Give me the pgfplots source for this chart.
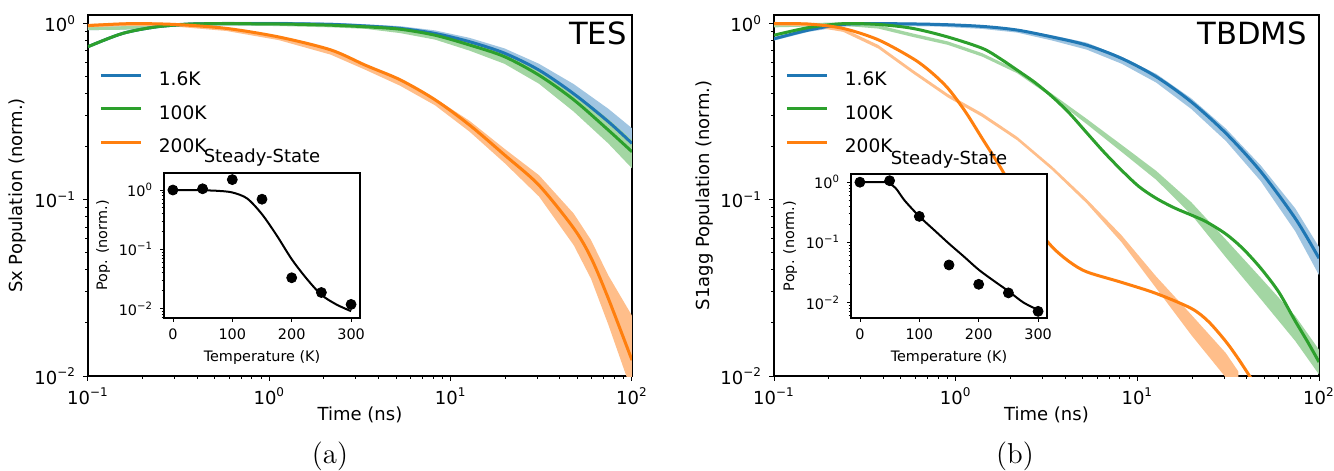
\documentclass[border=0pt]{standalone}
\usepackage{fontspec}
\usepackage{pgfplots}
\pgfplotsset{compat=1.18}
\newfontfamily\dv{DejaVu Sans}
\newcommand\fntA{\dv\fontsize{9}{11}\selectfont}
\newcommand\fntL{\dv\fontsize{9.3}{11}\selectfont}
\newcommand\fntI{\dv\fontsize{7.2}{9}\selectfont}
\newcommand\fntIT{\dv\fontsize{9}{11}\selectfont}
\newcommand\fntT{\dv\fontsize{15.3}{18}\selectfont}
\definecolor{tblue}{RGB}{31,119,180}
\definecolor{torange}{RGB}{255,127,14}
\definecolor{tgreen}{RGB}{44,160,44}
\definecolor{lblue}{RGB}{160,197,225}
\definecolor{lorange}{RGB}{255,190,138}
\definecolor{lgreen}{RGB}{163,214,163}
\pgfplotsset{legend image code/.code={\draw[#1, line width=1.5pt] (0pt,2.5pt) -- (20pt,2.5pt);}}
\begin{document}
\begin{tikzpicture}
% ---------------- panel (a) ----------------
\begin{axis}[at={(44pt,47.5pt)}, anchor=south west,
    scale only axis, width=272pt, height=180.5pt,
    xmode=log, ymode=log, xmin=0.1, xmax=100, ymin=0.01, ymax=1.12,
    xtick={0.1,1,10,100},
    xticklabels={10\textsuperscript{−1},10\textsuperscript{0},10\textsuperscript{1},10\textsuperscript{2}},
    minor xtick={0.2,0.3,0.4,0.5,0.6,0.7,0.8,0.9,2,3,4,5,6,7,8,9,20,30,40,50,60,70,80,90},
    ytick={0.01,0.1,1},
    yticklabels={10\textsuperscript{−2},10\textsuperscript{−1},10\textsuperscript{0}},
    minor ytick={0.02,0.03,0.04,0.05,0.06,0.07,0.08,0.09,0.2,0.3,0.4,0.5,0.6,0.7,0.8,0.9},
    tick pos=left, tick align=outside,
    major tick length=2.5pt, minor tick length=1.5pt,
    tick style={black, line width=0.5pt},
    axis line style={line width=0.6pt},
    tick label style={font=\fntA},
    xlabel={Time (ns)}, ylabel={Sx Population (norm.)},
    xlabel style={font=\fntA, at={(axis description cs:0.5,-0.108)}, anchor=center},
    ylabel style={font=\fntA, at={(axis description cs:-0.13,0.5)}, anchor=center},
    legend style={draw=none, fill=none, font=\fntL, inner sep=0pt,
      at={(axis description cs:0.02,0.855)}, anchor=north west,
      row sep=4.35pt, column sep=6.3pt},
    legend cell align=left]
% measured traces drawn as light bands (upper edge, then lower edge back)
\addplot[fill=lblue, draw=none, forget plot] coordinates {
(0.1,0.962)(0.155,0.967)(0.24,0.992)(0.375,1.018)(0.6,1.023)(1.2,1.023)(2.2,1.013)(3.4,0.992)(5.27,0.968)(8.2,0.916)(12.7,0.831)(19.8,0.724)(30.7,0.592)(47.7,0.454)(74,0.329)(100,0.255)
(100,0.176)(74,0.238)(47.7,0.352)(30.7,0.493)(19.8,0.630)(12.7,0.741)(8.2,0.836)(5.27,0.903)(3.4,0.948)(2.2,0.968)(1.2,0.978)(0.6,0.978)(0.375,0.973)(0.24,0.948)(0.155,0.924)(0.1,0.919)};
\addplot[fill=lgreen, draw=none, forget plot] coordinates {
(0.1,0.962)(0.155,0.967)(0.24,0.992)(0.375,1.018)(0.6,1.023)(1.2,1.013)(2.2,0.997)(3.4,0.977)(5.27,0.947)(8.2,0.890)(12.7,0.789)(19.8,0.681)(30.7,0.548)(47.7,0.409)(74,0.288)(100,0.219)
(100,0.151)(74,0.209)(47.7,0.317)(30.7,0.456)(19.8,0.592)(12.7,0.703)(8.2,0.812)(5.27,0.884)(3.4,0.934)(2.2,0.953)(1.2,0.968)(0.6,0.978)(0.375,0.973)(0.24,0.948)(0.155,0.924)(0.1,0.919)};
\addplot[fill=lorange, draw=none, forget plot] coordinates {
(0.1,0.997)(0.17,1.018)(0.3,1.008)(0.58,0.951)(1.13,0.844)(2.18,0.714)(3.4,0.585)(5.27,0.487)(8.2,0.377)(12.7,0.281)(19.8,0.195)(30.7,0.138)(47.7,0.0836)(59.4,0.0592)(74,0.0373)(100,0.022)
(100,0.0081)(74,0.0196)(59.4,0.0357)(47.7,0.0553)(30.7,0.1045)(19.8,0.162)(12.7,0.244)(8.2,0.344)(5.27,0.444)(3.4,0.546)(2.18,0.667)(1.13,0.806)(0.58,0.909)(0.3,0.963)(0.17,0.973)(0.1,0.953)};
% fits
\addplot[tblue, line width=1.5pt, smooth] coordinates {
(0.1,0.74)(0.155,0.88)(0.24,0.96)(0.375,0.995)(0.6,1.0)(1.2,1.0)(2.2,0.99)(3.4,0.97)(5.27,0.94)(8.2,0.88)(12.7,0.79)(19.8,0.68)(30.7,0.545)(47.7,0.40)(74,0.278)(100,0.209)};
\addlegendentry{1.6K}
\addplot[tgreen, line width=1.5pt, smooth] coordinates {
(0.1,0.74)(0.155,0.88)(0.24,0.96)(0.375,0.995)(0.6,1.0)(1.2,0.995)(2.2,0.98)(3.4,0.96)(5.27,0.93)(8.2,0.86)(12.7,0.757)(19.8,0.65)(30.7,0.51)(47.7,0.37)(74,0.249)(100,0.1875)};
\addlegendentry{100K}
\addplot[torange, line width=1.5pt, smooth] coordinates {
(0.1,0.975)(0.17,1.0)(0.3,0.99)(0.58,0.94)(1.13,0.84)(2.18,0.71)(3.4,0.58)(5.27,0.48)(8.2,0.37)(12.7,0.266)(19.8,0.18)(30.7,0.121)(47.7,0.069)(59.4,0.047)(74,0.0276)(100,0.0123)};
\addlegendentry{200K}
\node[anchor=east, font=\fntT, inner sep=0pt] at (rel axis cs:0.991,0.949) {TES};
\end{axis}
\begin{axis}[at={(82pt,76.5pt)}, anchor=south west,
    scale only axis, width=98pt, height=72.5pt,
    ymode=log, xmin=-15, xmax=315, ymin=0.0069, ymax=1.94,
    axis background/.style={fill=white},
    xtick={0,100,200,300}, xticklabels={0,100,200,300},
    ytick={0.01,0.1,1},
    yticklabels={10\textsuperscript{−2},10\textsuperscript{−1},10\textsuperscript{0}},
    minor ytick={0.007,0.008,0.009,0.02,0.03,0.04,0.05,0.06,0.07,0.08,0.09,0.2,0.3,0.4,0.5,0.6,0.7,0.8,0.9},
    tick pos=left, tick align=outside,
    major tick length=2pt, minor tick length=1.2pt,
    tick style={black, line width=0.4pt},
    axis line style={line width=0.6pt},
    tick label style={font=\fntI},
    xlabel={Temperature (K)}, ylabel={Pop. (norm.)},
    xlabel style={font=\fntI, at={(axis description cs:0.5,-0.276)}, anchor=center},
    ylabel style={font=\fntI, at={(axis description cs:-0.31,0.5)}, anchor=center}]
\addplot[black, line width=1pt, smooth] coordinates {
(0,1.0)(25,1.0)(50,0.99)(75,0.97)(100,0.91)(125,0.72)(150,0.39)(175,0.17)(200,0.068)(225,0.032)(250,0.017)(275,0.0117)(300,0.009)};
\addplot[only marks, mark=*, mark size=2.5pt, black] coordinates {
(0,1.0)(50,1.05)(100,1.5)(150,0.70)(200,0.033)(250,0.0186)(300,0.0117)};
\end{axis}
\node[font=\fntIT, inner sep=0pt] at (131pt,156.6pt) {Steady-State};
% ---------------- panel (b) ----------------
\begin{axis}[at={(387pt,47.5pt)}, anchor=south west,
    scale only axis, width=272.5pt, height=180.5pt,
    xmode=log, ymode=log, xmin=0.1, xmax=100, ymin=0.01, ymax=1.12,
    xtick={0.1,1,10,100},
    xticklabels={10\textsuperscript{−1},10\textsuperscript{0},10\textsuperscript{1},10\textsuperscript{2}},
    minor xtick={0.2,0.3,0.4,0.5,0.6,0.7,0.8,0.9,2,3,4,5,6,7,8,9,20,30,40,50,60,70,80,90},
    ytick={0.01,0.1,1},
    yticklabels={10\textsuperscript{−2},10\textsuperscript{−1},10\textsuperscript{0}},
    minor ytick={0.02,0.03,0.04,0.05,0.06,0.07,0.08,0.09,0.2,0.3,0.4,0.5,0.6,0.7,0.8,0.9},
    tick pos=left, tick align=outside,
    major tick length=2.5pt, minor tick length=1.5pt,
    tick style={black, line width=0.5pt},
    axis line style={line width=0.6pt},
    tick label style={font=\fntA},
    xlabel={Time (ns)}, ylabel={S1agg Population (norm.)},
    xlabel style={font=\fntA, at={(axis description cs:0.5,-0.108)}, anchor=center},
    ylabel style={font=\fntA, at={(axis description cs:-0.128,0.5)}, anchor=center},
    legend style={draw=none, fill=none, font=\fntL, inner sep=0pt,
      at={(axis description cs:0.02,0.855)}, anchor=north west,
      row sep=4.35pt, column sep=6.3pt},
    legend cell align=left]
\addplot[fill=lblue, draw=none, forget plot] coordinates {
(0.1,0.839)(0.155,0.941)(0.24,1.008)(0.4,1.018)(0.8,1.008)(1.4,0.977)(2.18,0.931)(3.4,0.859)(5.27,0.780)(8.2,0.649)(12.7,0.519)(19.8,0.377)(30.7,0.254)(47.7,0.157)(74,0.0894)(100,0.054)
(100,0.0374)(74,0.0663)(47.7,0.128)(30.7,0.216)(19.8,0.328)(12.7,0.463)(8.2,0.592)(5.27,0.712)(3.4,0.802)(2.18,0.890)(1.4,0.934)(0.8,0.963)(0.4,0.973)(0.24,0.963)(0.155,0.899)(0.1,0.802)};
\addplot[fill=lgreen, draw=none, forget plot] coordinates {
(0.1,0.997)(0.24,1.018)(0.375,0.982)(0.58,0.880)(0.906,0.793)(1.4,0.680)(2.18,0.547)(3.4,0.399)(5.27,0.288)(8.2,0.205)(12.7,0.146)(19.8,0.097)(30.7,0.0595)(47.7,0.0362)(74,0.0219)(100,0.0141)
(100,0.0102)(74,0.0158)(47.7,0.0274)(30.7,0.0472)(19.8,0.0826)(12.7,0.130)(8.2,0.187)(5.27,0.269)(3.4,0.381)(2.18,0.523)(1.4,0.650)(0.906,0.758)(0.58,0.841)(0.375,0.938)(0.24,0.973)(0.1,0.953)};
\addplot[fill=lorange, draw=none, forget plot] coordinates {
(0.1,1.023)(0.155,1.013)(0.24,0.941)(0.375,0.757)(0.58,0.547)(0.906,0.399)(1.4,0.310)(2.18,0.228)(3.4,0.1545)(5.27,0.1007)(8.2,0.0628)(12.7,0.0367)(19.8,0.0223)(30.7,0.0135)(36,0.0106)
(36,0.0077)(30.7,0.0098)(19.8,0.0171)(12.7,0.0315)(8.2,0.0573)(5.27,0.0954)(3.4,0.1475)(2.18,0.218)(1.4,0.296)(0.906,0.381)(0.58,0.523)(0.375,0.723)(0.24,0.899)(0.155,0.968)(0.1,0.978)};
\addplot[tblue, line width=1.5pt, smooth] coordinates {
(0.1,0.82)(0.155,0.92)(0.24,0.99)(0.4,1.0)(0.8,0.99)(1.4,0.965)(2.18,0.92)(3.4,0.84)(5.27,0.755)(8.2,0.635)(12.7,0.50)(19.8,0.36)(30.7,0.239)(47.7,0.145)(74,0.0785)(100,0.0466)};
\addlegendentry{1.6K}
\addplot[tgreen, line width=1.5pt, smooth] coordinates {
(0.1,0.86)(0.155,0.95)(0.24,1.0)(0.375,0.99)(0.58,0.94)(0.906,0.84)(1.4,0.725)(1.75,0.635)(2.18,0.545)(2.72,0.465)(3.4,0.385)(4.23,0.31)(5.27,0.24)(6.57,0.186)(8.2,0.147)(10.2,0.119)(12.7,0.102)(16,0.09)(19.8,0.082)(24,0.075)(30.7,0.064)(38,0.053)(47.7,0.041)(60,0.03)(74,0.0205)(87,0.0155)(100,0.012)};
\addlegendentry{100K}
\addplot[torange, line width=1.5pt, smooth] coordinates {
(0.1,1.0)(0.155,0.995)(0.24,0.94)(0.375,0.81)(0.58,0.635)(0.726,0.535)(0.906,0.43)(1.13,0.317)(1.4,0.223)(1.75,0.155)(2.18,0.105)(2.72,0.072)(3.4,0.054)(4.23,0.0445)(5.27,0.039)(8.2,0.034)(12.7,0.0294)(19.8,0.0242)(24.6,0.0204)(30.7,0.0157)(36,0.0125)(42,0.0098)};
\addlegendentry{200K}
\node[anchor=east, font=\fntT, inner sep=0pt] at (rel axis cs:0.978,0.949) {TBDMS};
\end{axis}
\begin{axis}[at={(425.5pt,76.5pt)}, anchor=south west,
    scale only axis, width=98pt, height=72pt,
    ymode=log, xmin=-15, xmax=315, ymin=0.0055, ymax=1.37,
    axis background/.style={fill=white},
    xtick={0,100,200,300}, xticklabels={0,100,200,300},
    ytick={0.01,0.1,1},
    yticklabels={10\textsuperscript{−2},10\textsuperscript{−1},10\textsuperscript{0}},
    minor ytick={0.006,0.007,0.008,0.009,0.02,0.03,0.04,0.05,0.06,0.07,0.08,0.09,0.2,0.3,0.4,0.5,0.6,0.7,0.8,0.9},
    tick pos=left, tick align=outside,
    major tick length=2pt, minor tick length=1.2pt,
    tick style={black, line width=0.4pt},
    axis line style={line width=0.6pt},
    tick label style={font=\fntI},
    xlabel={Temperature (K)}, ylabel={Pop. (norm.)},
    xlabel style={font=\fntI, at={(axis description cs:0.5,-0.276)}, anchor=center},
    ylabel style={font=\fntI, at={(axis description cs:-0.31,0.5)}, anchor=center}]
\addplot[black, line width=1pt, smooth] coordinates {
(0,1.0)(25,1.0)(45,0.99)(60,0.8)(75,0.5)(100,0.27)(125,0.16)(150,0.095)(175,0.058)(200,0.035)(225,0.023)(250,0.0154)(275,0.010)(300,0.0075)};
\addplot[only marks, mark=*, mark size=2.5pt, black] coordinates {
(0,1.0)(50,1.06)(100,0.27)(150,0.042)(200,0.020)(250,0.0144)(300,0.0071)};
\end{axis}
\node[font=\fntIT, inner sep=0pt] at (474.5pt,155.8pt) {Steady-State};
\node[font=\fontsize{14.4}{17}\selectfont] at (165pt,7.5pt) {(a)};
\node[font=\fontsize{14.4}{17}\selectfont] at (507.5pt,7.5pt) {(b)};
\pgfresetboundingbox
\useasboundingbox (0,0) rectangle (667pt,235.5pt);
\end{tikzpicture}
\end{document}
